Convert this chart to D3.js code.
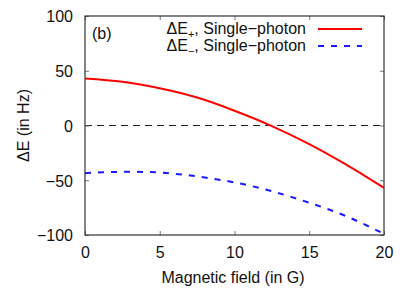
<!DOCTYPE html>
<html><head><meta charset="utf-8">
<script src="https://cdn.jsdelivr.net/npm/d3@7"></script>
<style>body{margin:0;background:#fff}svg{display:block;font-family:"Liberation Sans",Arial,sans-serif}</style>
</head><body><svg id="c" width="415" height="291"></svg>
<script>
const fieldG = [0, 2.5, 5, 7.5, 10, 12.5, 15, 17.5, 20];
const dEplus = [43, 40, 34, 25.5, 13.5, -0.5, -17, -36, -57];
const dEminus = [-43.5, -42.3, -43, -46.5, -52, -60, -70.5, -83, -99];
const xTicks = [0, 5, 10, 15, 20];
const yTicks = [-100, -50, 0, 50, 100];

const svg = d3.select("#c");
const L = 85, R = 384, T = 16, B = 235;
const x = d3.scaleLinear().domain([0, 20]).range([L, R]);
const y = d3.scaleLinear().domain([-100, 100]).range([B, T]);
const fs = 16;

// zero line
svg.append("line").attr("x1", L).attr("x2", R).attr("y1", y(0)).attr("y2", y(0))
  .attr("stroke", "#222").attr("stroke-width", 1).attr("stroke-dasharray", "7,5");

const gx = svg.append("g").attr("transform", `translate(0,${B})`)
  .call(d3.axisBottom(x).tickValues(xTicks).tickSize(-4).tickPadding(12).tickFormat(d3.format("d")));
const gy = svg.append("g").attr("transform", `translate(${L},0)`)
  .call(d3.axisLeft(y).tickValues(yTicks).tickSize(-4).tickPadding(12).tickFormat(d => d < 0 ? "\u2212" + Math.abs(d) : d));
const gt = svg.append("g").attr("transform", `translate(0,${T})`).call(d3.axisTop(x).tickValues(xTicks).tickSize(-4).tickFormat(""));
const gr = svg.append("g").attr("transform", `translate(${R},0)`).call(d3.axisRight(y).tickValues(yTicks).tickSize(-4).tickFormat(""));
[gx, gy, gt, gr].forEach(g => {
  g.select(".domain").remove();
  g.selectAll(".tick line").attr("stroke", "#777");
  g.selectAll("text").attr("font-size", fs).attr("fill", "#111").attr("font-family", "Liberation Sans, Arial, sans-serif");
});
gy.selectAll("text").attr("dy", "0.36em");

// frame
svg.append("rect").attr("x", L).attr("y", T).attr("width", R - L).attr("height", B - T)
  .attr("fill", "none").attr("stroke", "#333").attr("stroke-width", 1.2);

const line = d3.line().x((d, i) => x(fieldG[i])).y(d => y(d)).curve(d3.curveMonotoneX);
svg.append("path").datum(dEplus).attr("d", line).attr("fill", "none")
  .attr("stroke", "#ff0000").attr("stroke-width", 2);
svg.append("path").datum(dEminus).attr("d", d3.line().x((d, i) => x(fieldG[i])).y(d => y(d)).curve(d3.curveNatural)).attr("fill", "none")
  .attr("stroke", "#1a1aff").attr("stroke-width", 2).attr("stroke-dasharray", "6,7");

// labels
svg.append("text").attr("x", 233).attr("y", 283).attr("text-anchor", "middle")
  .attr("font-size", fs).attr("fill", "#111").text("Magnetic field (in G)");
svg.append("text").attr("transform", `translate(29,${(T + B) / 2}) rotate(-90)`).attr("text-anchor", "middle")
  .attr("font-size", fs).attr("fill", "#111").text("\u0394E (in Hz)");
svg.append("text").attr("x", 92).attr("y", 39).attr("font-size", fs).attr("fill", "#111").text("(b)");

// legend
const leg = [
  {sub: "+", color: "#ff0000", dash: null, y: 34},
  {sub: "\u2212", color: "#1a1aff", dash: "6,7", y: 51}
];
leg.forEach(l => {
  const t = svg.append("text").attr("x", 306).attr("y", l.y).attr("text-anchor", "end")
    .attr("font-size", fs).attr("fill", "#111");
  t.append("tspan").text("\u0394E");
  t.append("tspan").attr("font-size", 11).attr("dy", 4).text(l.sub);
  t.append("tspan").attr("dy", -4).text(", Single\u2212photon");
  svg.append("line").attr("x1", 318).attr("x2", 362).attr("y1", l.y - 5).attr("y2", l.y - 5)
    .attr("stroke", l.color).attr("stroke-width", 2).attr("stroke-dasharray", l.dash);
});
</script></body></html>
